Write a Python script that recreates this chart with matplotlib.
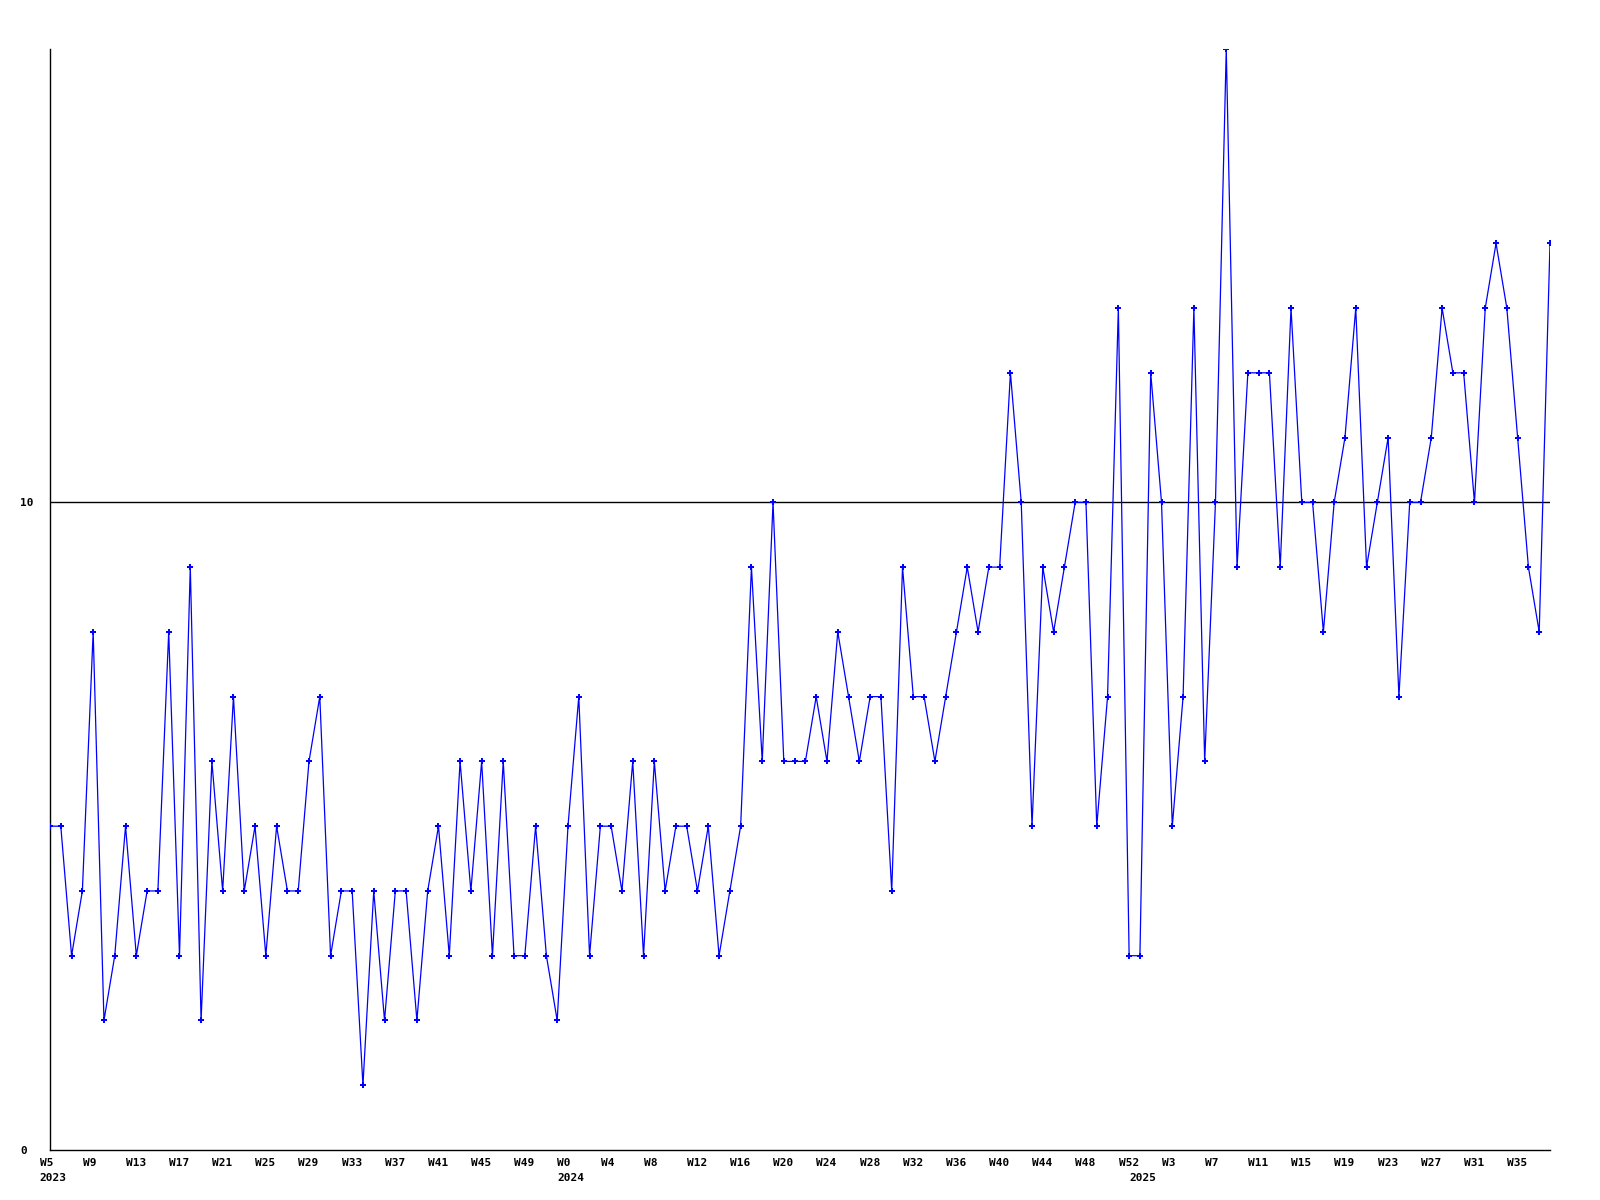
import matplotlib
matplotlib.use("Agg")
import matplotlib.pyplot as plt
from matplotlib.transforms import ScaledTranslation

# weekly counts, 2023 W5 .. 2025 W38
weeks_2023 = list(range(5, 53))
weeks_2024 = list(range(0, 53))
weeks_2025 = list(range(0, 39))

values = [
    5, 5, 3, 4, 8, 2, 3, 5, 3, 4, 4, 8, 3, 9, 2, 6, 4, 7, 4, 5,
    3, 5, 4, 4, 6, 7, 3, 4, 4, 1, 4, 2, 4, 4, 2, 4, 5, 3, 6, 4,
    6, 3, 6, 3, 3, 5, 3, 2, 5, 7, 3, 5, 5, 4, 6, 3, 6, 4, 5, 5,
    4, 5, 3, 4, 5, 9, 6, 10, 6, 6, 6, 7, 6, 8, 7, 6, 7, 7, 4, 9,
    7, 7, 6, 7, 8, 9, 8, 9, 9, 12, 10, 5, 9, 8, 9, 10, 10, 5, 7, 13,
    3, 3, 12, 10, 5, 7, 13, 6, 10, 17, 9, 12, 12, 12, 9, 13, 10, 10, 8, 10,
    11, 13, 9, 10, 11, 7, 10, 10, 11, 13, 12, 12, 10, 13, 14, 13, 11, 9, 8, 14,
]

week_labels = ["W%d" % w for w in weeks_2023 + weeks_2024 + weeks_2025]
year_names = ["2023", "2024", "2025"]
year_starts = [0, len(weeks_2023), len(weeks_2023) + len(weeks_2024)]

x = list(range(len(values)))

fig = plt.figure(figsize=(16, 12), dpi=100)
ax = fig.add_axes([50 / 1600, 50 / 1200, 1500 / 1600, 1101 / 1200])

ax.axhline(10, color="black", linewidth=1.0, zorder=1)
ax.plot(x, values, color="#0000ff", linewidth=0.9, marker="P",
        markersize=3.8, markeredgewidth=0, zorder=3)

ax.set_xlim(0, len(values) - 1)
ax.set_ylim(0, 17)

for side in ["top", "right"]:
    ax.spines[side].set_visible(False)
for side in ["left", "bottom"]:
    ax.spines[side].set_linewidth(1.0)
    ax.spines[side].set_color("black")

font = dict(family="DejaVu Sans Mono", weight="bold", size=8)

ax.set_yticks([0, 10])
ax.set_yticklabels(["0", "10"], **font)
ax.tick_params(axis="y", length=0, pad=21.5)
for lbl in ax.get_yticklabels():
    lbl.set_horizontalalignment("left")

# year labels sit on minor ticks, which may share a spot with a week tick
ax.xaxis.remove_overlapping_locs = False
tick_pos = x[::4]
ax.set_xticks(tick_pos)
ax.set_xticklabels(week_labels[::4], **font)
ax.set_xticks(year_starts, minor=True)
ax.set_xticklabels(year_names, minor=True, **font)
ax.tick_params(axis="x", which="major", length=0, pad=6)
ax.tick_params(axis="x", which="minor", length=0, pad=16.5)

shift = ScaledTranslation(-10.5 / 100, 0, fig.dpi_scale_trans)
for lbl in ax.get_xticklabels() + ax.get_xticklabels(minor=True):
    lbl.set_horizontalalignment("left")
    lbl.set_transform(lbl.get_transform() + shift)

plt.savefig("out.png", dpi=100)
